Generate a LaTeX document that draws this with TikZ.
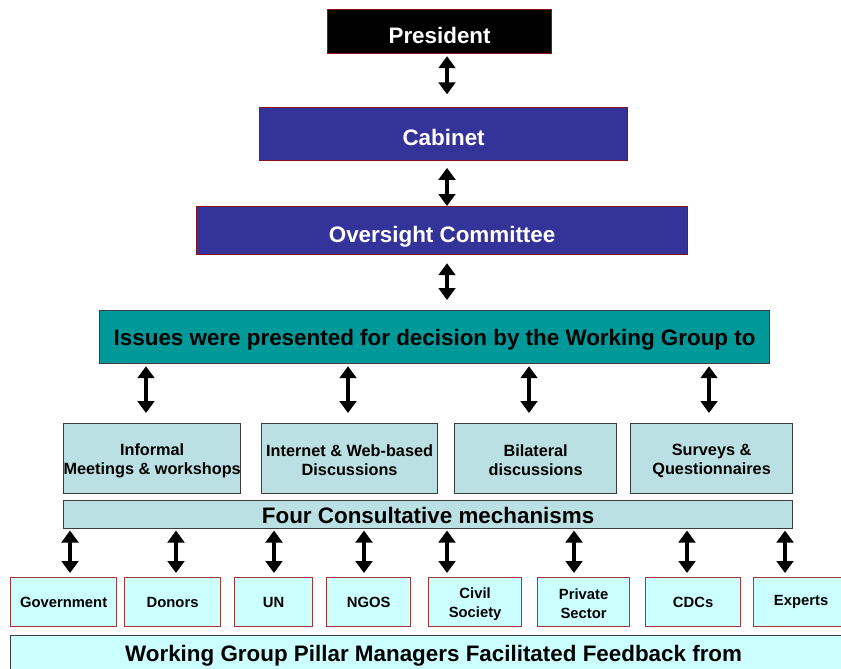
\documentclass[tikz,border=0pt]{standalone}
\usepackage{fontspec}
\setmainfont{Liberation Sans}
\usetikzlibrary{arrows.meta,calc}
\definecolor{bordred}{RGB}{135,20,25}
\definecolor{lowred}{RGB}{165,55,55}
\definecolor{navyfill}{RGB}{51,51,153}
\definecolor{tealfill}{RGB}{0,153,153}
\definecolor{mechfill}{RGB}{187,224,227}
\definecolor{cyanfill}{RGB}{204,255,255}
\definecolor{grayline}{RGB}{60,60,60}
\newcommand{\topstrut}{\rule{0pt}{11pt}}
\newcommand{\mechstrut}{\rule{0pt}{11.8pt}}
\tikzset{
  x=0.75pt, y=-0.75pt,
  basebox/.style={rectangle, anchor=north west, inner sep=0pt, line width=0.9pt, align=center, font=\bfseries},
  bigtext/.style={font=\fontsize{16.8}{19}\selectfont\bfseries},
  smalltext/.style={font=\fontsize{11.1}{14.2}\selectfont\bfseries},
  mechtext/.style={font=\fontsize{12.2}{14.3}\selectfont\bfseries},
  presbox/.style={basebox, bigtext, fill=black, draw=bordred, text=white, text height=19pt, text depth=1pt},
  navybox/.style={basebox, bigtext, fill=navyfill, draw=bordred, text=white, text height=18.5pt, text depth=1pt},
  issuebox/.style={basebox, bigtext, fill=tealfill, draw=grayline, text=black, text height=14pt, text depth=2pt},
  mechbox/.style={basebox, mechtext, fill=mechfill, draw=grayline, text=black},
  fourbox/.style={basebox, bigtext, fill=mechfill, draw=grayline, text=black, text height=16pt, text depth=2pt},
  groupbox/.style={basebox, smalltext, fill=cyanfill, draw=lowred, text=black},
  feedbox/.style={basebox, bigtext, fill=cyanfill, draw=grayline, text=black},
  dbl/.style={line width=3.2pt, {Triangle[width=12.5pt,length=9pt]}-{Triangle[width=12.5pt,length=9pt]}},
}
\begin{document}
\begin{tikzpicture}
\useasboundingbox (0,0) rectangle (841,668);
\fill[white] (0,0) rectangle (841,668);

% top chain
\node[presbox, minimum width=168pt, minimum height=33pt] (pres) at (327,9) {President};
\node[navybox, minimum width=276pt, minimum height=39.75pt] (cab) at (259,107) {Cabinet};
\node[navybox, minimum width=368.25pt, minimum height=36pt] (over) at (196,206) {Oversight Committee};
\node[issuebox, minimum width=502.5pt, minimum height=39.75pt] (iss) at (99,310) {Issues were presented for decision by the Working Group to};

% mechanisms
\node[mechbox, minimum width=132.75pt, minimum height=52.5pt] (m1) at (63,423) {\mechstrut Informal\\Meetings \& workshops};
\node[mechbox, minimum width=132pt, minimum height=52.5pt] (m2) at (261,423) {\mechstrut Internet \& Web-based\\Discussions};
\node[mechbox, minimum width=121.5pt, minimum height=52.5pt] (m3) at (454,423) {\mechstrut Bilateral\\discussions};
\node[mechbox, minimum width=121.5pt, minimum height=52.5pt] (m4) at (630,423) {\mechstrut Surveys \&\\Questionnaires};
\node[fourbox, minimum width=546.75pt, minimum height=21pt] (four) at (63,500) {Four Consultative mechanisms};

% groups
\node[groupbox, minimum width=79.5pt, minimum height=36.75pt] (g1) at (10,577) {Government};
\node[groupbox, minimum width=72pt, minimum height=36.75pt] (g2) at (124,577) {Donors};
\node[groupbox, minimum width=58.5pt, minimum height=36.75pt] (g3) at (234,577) {UN};
\node[groupbox, minimum width=63pt, minimum height=36.75pt] (g4) at (326,577) {NGOS};
\node[groupbox, minimum width=69.75pt, minimum height=36.75pt] (g5) at (428,577) {\topstrut Civil\\Society};
\node[groupbox, minimum width=69pt, minimum height=36.75pt] (g6) at (537,577) {\topstrut Private\\Sector};
\node[groupbox, minimum width=71.25pt, minimum height=36.75pt] (g7) at (645,577) {CDCs};
\node[groupbox, minimum width=71.25pt, minimum height=36.75pt] (g8) at (753,577) {Experts};

\node[feedbox, minimum width=634.5pt, minimum height=30pt] (feed) at (10,635) {Working Group Pillar Managers Facilitated Feedback from};

% arrow columns
\coordinate (ax) at (447,0);
\coordinate (c1) at (146,0);
\coordinate (c2) at (348,0);
\coordinate (c3) at (529,0);
\coordinate (c4) at (709,0);
\coordinate (b1) at (70,0);
\coordinate (b2) at (176,0);
\coordinate (b3) at (274,0);
\coordinate (b4) at (364,0);
\coordinate (b5) at (447,0);
\coordinate (b6) at (574,0);
\coordinate (b7) at (687,0);
\coordinate (b8) at (785,0);

\draw[dbl, shorten <=1.5pt, shorten >=9.5pt] (pres.south -| ax) -- (cab.north -| ax);
\draw[dbl, shorten <=5pt, shorten >=0pt] (cab.south -| ax) -- (over.north -| ax);
\draw[dbl, shorten <=6pt, shorten >=7.5pt] (over.south -| ax) -- (iss.north -| ax);

\draw[dbl, shorten <=1.5pt, shorten >=7.5pt] (iss.south -| c1) -- (m1.north -| c1);
\draw[dbl, shorten <=1.5pt, shorten >=7.5pt] (iss.south -| c2) -- (m2.north -| c2);
\draw[dbl, shorten <=1.5pt, shorten >=7.5pt] (iss.south -| c3) -- (m3.north -| c3);
\draw[dbl, shorten <=1.5pt, shorten >=7.5pt] (iss.south -| c4) -- (m4.north -| c4);

\draw[dbl, shorten <=1pt, shorten >=3pt] (four.south -| b1) -- (g1.north -| b1);
\draw[dbl, shorten <=1pt, shorten >=3pt] (four.south -| b2) -- (g2.north -| b2);
\draw[dbl, shorten <=1pt, shorten >=3pt] (four.south -| b3) -- (g3.north -| b3);
\draw[dbl, shorten <=1pt, shorten >=3pt] (four.south -| b4) -- (g4.north -| b4);
\draw[dbl, shorten <=1pt, shorten >=3pt] (four.south -| b5) -- (g5.north -| b5);
\draw[dbl, shorten <=1pt, shorten >=3pt] (four.south -| b6) -- (g6.north -| b6);
\draw[dbl, shorten <=1pt, shorten >=3pt] (four.south -| b7) -- (g7.north -| b7);
\draw[dbl, shorten <=1pt, shorten >=3pt] (four.south -| b8) -- (g8.north -| b8);
\end{tikzpicture}
\end{document}
